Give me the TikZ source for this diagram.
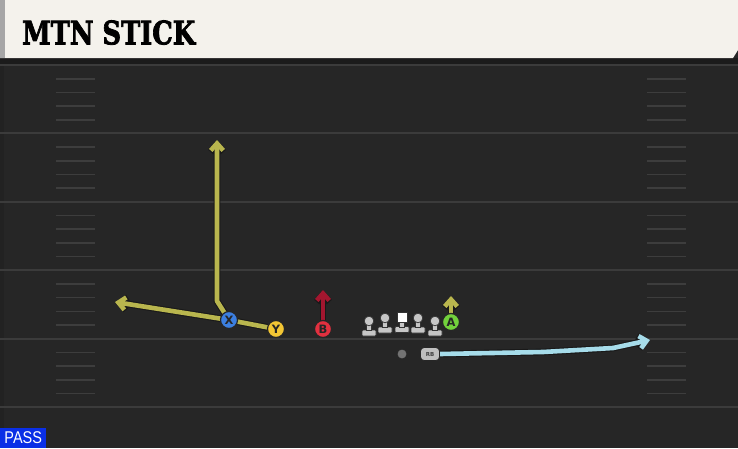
\documentclass[tikz,border=0pt]{standalone}
\usepackage{fontspec}
\setsansfont{DejaVu Sans}
\newfontfamily\titlefont{DejaVu Serif}[BoldFeatures={FakeBold=2.5}]
\newfontfamily\passfont{Liberation Sans}
\usetikzlibrary{arrows.meta}
\definecolor{fieldbg}{HTML}{262626}
\definecolor{yardline}{HTML}{3B3B3B}
\definecolor{hashc}{HTML}{3D3D3D}
\definecolor{headbg}{HTML}{F4F2EC}
\definecolor{olive}{HTML}{B9B64E}
\definecolor{routered}{HTML}{A3162F}
\definecolor{routeblue}{HTML}{A6DCEA}
\definecolor{pblue}{HTML}{3C7FE0}
\definecolor{pyellow}{HTML}{F3C634}
\definecolor{pred}{HTML}{E2303F}
\definecolor{pgreen}{HTML}{72D13C}
\definecolor{passblue}{HTML}{0A2FE6}
\definecolor{lmgrey}{HTML}{C6C6C6}
\pgfdeclarelayer{bg}
\pgfdeclarelayer{routes}
\pgfsetlayers{bg,routes,main}
\tikzset{
  player/.style={circle, fill=#1, draw=black!85, line width=1.2pt, minimum size=17pt,
    inner sep=0pt, font=\sffamily\bfseries\fontsize{11.5}{11.5}\selectfont, text=black!85},
  route/.style={line width=4.6pt, draw=#1, line join=round, line cap=butt,
    -{Straight Barb[length=7pt,width=12.5pt]},
    preaction={draw=black!90, line width=6.8pt, -{Straight Barb[length=7pt,width=12.5pt]}}},
  lman/.pic={
    \fill[lmgrey, draw=black!80, line width=0.7pt, rounded corners=1pt] (-7,9) rectangle (7,15);
    \fill[lmgrey, draw=black!80, line width=0.7pt] (-2.4,0) rectangle (2.4,9.4);
    \fill[lmgrey, draw=black!80, line width=0.7pt] (0,0) circle (4.8);
  },
  cman/.pic={
    \fill[lmgrey, draw=black!80, line width=0.7pt, rounded corners=1pt] (-7,9.5) rectangle (7,15.5);
    \fill[lmgrey, draw=black!80, line width=0.7pt] (-2.4,4) rectangle (2.4,9.9);
    \fill[white, draw=black!80, line width=0.7pt] (-5,-5) rectangle (5,5);
  },
  yard/.style={yardline, line width=2pt},
  hash/.style={hashc, line width=1.6pt}
}
\begin{document}
\begin{tikzpicture}[x=1pt,y=-1pt]
\useasboundingbox (0,0) rectangle (738,448);
\begin{pgfonlayer}{bg}
  \fill[fieldbg] (0,0) rectangle (738,448);
  \fill[black!10!fieldbg] (0,58) rectangle (4,448);
  \fill[black!30!fieldbg] (0,58) rectangle (738,65);
  \foreach \k in {0,...,5}{
    \draw[yard] (0,65+68.4*\k) -- (738,65+68.4*\k);
  }
  \foreach \k in {0,...,4}{
    \foreach \j in {1,...,4}{
      \draw[hash] (56,65+68.4*\k+13.7*\j) -- (95,65+68.4*\k+13.7*\j);
      \draw[hash] (647,65+68.4*\k+13.7*\j) -- (686,65+68.4*\k+13.7*\j);
    }
  }
  \fill[headbg] (0,0) -- (738,0) -- (738,50) -- (733,58) -- (0,58) -- cycle;
  \fill[black!35] (0,0) rectangle (5,58);
\end{pgfonlayer}

\node[anchor=south west, inner sep=0pt] (title) at (22,45)
  {\resizebox{173pt}{24pt}{\titlefont\bfseries MTN STICK}};

\node[fill=passblue, minimum width=46pt, minimum height=20pt, inner sep=0pt,
  text=white, anchor=south west] (pass) at (0,448)
  {\scalebox{0.85}[1]{\passfont\fontsize{17}{17}\selectfont PASS}};

% offensive line
\pic (lt) at (369,321) {lman};
\pic (lg) at (385,318) {lman};
\pic (c)  at (402,317) {cman};
\pic (rg) at (418,318) {lman};
\pic (rt) at (435,321) {lman};

% players
\node[player=pblue]   (X) at (229,320) {X};
\node[player=pyellow] (Y) at (276,329) {Y};
\node[player=pred]    (B) at (323,329) {B};
\node[player=pgreen]  (A) at (451,322) {A};
\node[circle, fill=black!55, draw=black!85, line width=0.8pt, minimum size=10pt, inner sep=0pt] (QB) at (402,354) {};
\node[rounded corners=3.5pt, fill=black!25, draw=black!85, line width=0.9pt, minimum width=19pt,
  minimum height=13pt, inner sep=0pt, text=black!75, font=\sffamily\bfseries\fontsize{5.5}{5.5}\selectfont] (RB) at (430,354) {RB};

\coordinate (xbend) at (217,301);
\coordinate (xend) at (217,140);
\coordinate (yend) at (115,302);
\coordinate (bend) at (323,290);
\coordinate (aend) at (451,296);
\coordinate (r1) at (543,352);
\coordinate (r2) at (613,348);
\coordinate (rend) at (650,340);

\begin{pgfonlayer}{routes}
  \draw[route=olive] (X.center) -- (xbend) -- (xend);
  \draw[route=olive] (Y.center) -- (X.center) -- (yend);
  \draw[route=routered] (B.center) -- (bend);
  \draw[route=olive] (A.center) -- (aend);
  \draw[route=routeblue] (RB.east) -- (r1) -- (r2) -- (rend);
\end{pgfonlayer}
\end{tikzpicture}
\end{document}
